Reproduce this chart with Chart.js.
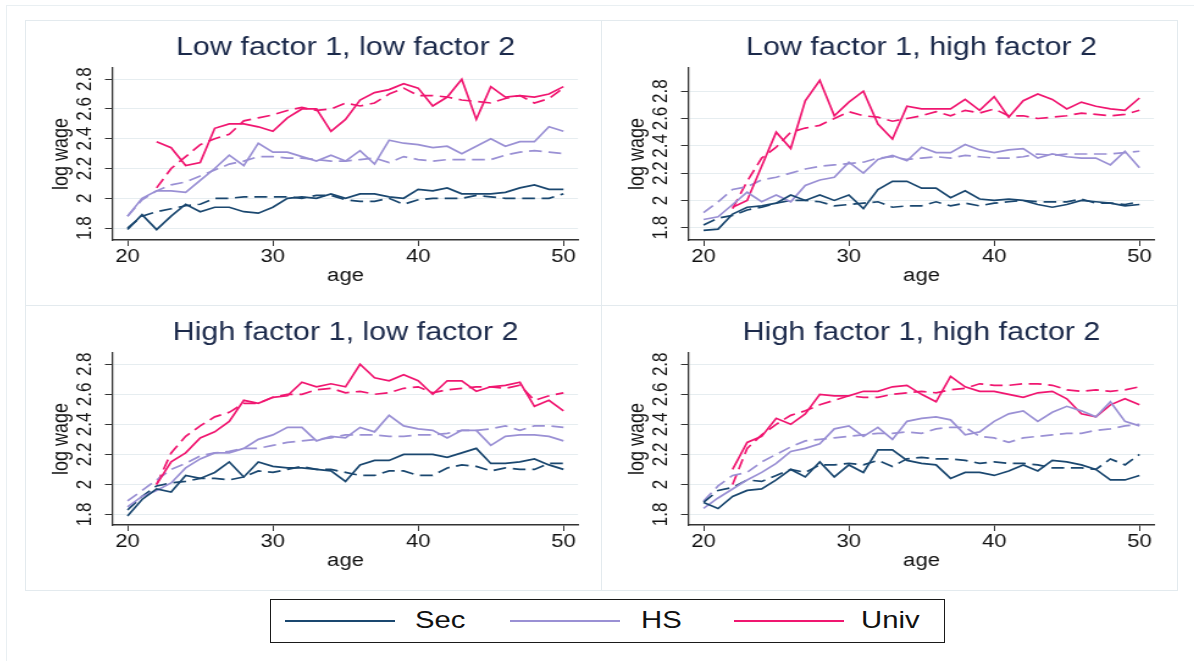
<!DOCTYPE html>
<html>
<head>
<meta charset="utf-8">
<script src="https://cdn.jsdelivr.net/npm/chart.js@4.4.1/dist/chart.umd.min.js"></script>
<style>
  body { margin: 0; width: 1194px; height: 661px; overflow: hidden; position: relative; background: #fff;
         font-family: "Liberation Sans", Arial, sans-serif; }
  .frame { position: absolute; left: 6px; top: 5px; width: 1200px; height: 700px; border: 1px solid #e9eff2; }
  .panel { position: absolute; border: 1px solid #e3eaee; box-sizing: border-box; }
  canvas { position: absolute; }
  .legend { position: absolute; left: 270px; top: 599px; width: 675px; height: 44px; border: 1.5px solid #1a1a1a;
            box-sizing: border-box; background: #fff; }
  .legend .ln { position: absolute; top: 20px; width: 110px; height: 0; border-top: 2px solid; }
  .legend .tx { position: absolute; top: 6px; font-size: 24px; line-height: 28px; color: #111;
                transform: scaleX(1.22); transform-origin: left center; }
</style>
</head>
<body>
<div class="frame"></div>
<div class="panel" style="left:25px;top:20px;width:577px;height:286px"></div>
<div class="panel" style="left:601px;top:20px;width:577px;height:286px"></div>
<div class="panel" style="left:25px;top:305px;width:577px;height:286px"></div>
<div class="panel" style="left:601px;top:305px;width:577px;height:286px"></div>
<!-- the reference image is stretched sideways, so each canvas is drawn narrow and shown wide -->
<canvas id="p1" width="472" height="285" style="left:25px;top:20px;width:576px;height:285px"></canvas>
<canvas id="p2" width="472" height="285" style="left:601px;top:20px;width:576px;height:285px"></canvas>
<canvas id="p3" width="472" height="285" style="left:25px;top:305px;width:576px;height:285px"></canvas>
<canvas id="p4" width="472" height="285" style="left:601px;top:305px;width:576px;height:285px"></canvas>
<div class="legend">
  <div class="ln" style="left:14px;border-color:#1a476f"></div><div class="tx" style="left:144px">Sec</div>
  <div class="ln" style="left:239px;border-color:#9a90d4"></div><div class="tx" style="left:370px">HS</div>
  <div class="ln" style="left:463px;border-color:#f01670"></div><div class="tx" style="left:590px">Univ</div>
</div>
<script>
// ages on the x axis, ticks
const ages = [20,21,22,23,24,25,26,27,28,29,30,31,32,33,34,35,36,37,38,39,40,41,42,43,44,45,46,47,48,49,50];
const xTicks = [20, 30, 40, 50];
const yTicks = [1.8, 2, 2.2, 2.4, 2.6, 2.8];

// Low factor 1, low factor 2  (Obs = solid, Fit = dashed)
const p1SecObs  = [1.79,1.89,1.79,1.88,1.96,1.91,1.94,1.94,1.91,1.90,1.94,2.00,2.01,2.00,2.03,2.00,2.03,2.03,2.01,2.00,2.06,2.05,2.07,2.03,2.03,2.03,2.04,2.07,2.09,2.06,2.06];
const p1SecFit  = [1.80,1.88,1.91,1.93,1.95,1.96,2.00,2.00,2.01,2.01,2.01,2.01,2.00,2.02,2.02,1.99,1.98,1.98,2.00,1.96,1.99,2.00,2.00,2.00,2.02,2.01,2.00,2.00,2.00,2.00,2.03];
const p1HsObs   = [1.88,2.00,2.05,2.05,2.04,2.12,2.20,2.29,2.22,2.37,2.31,2.31,2.28,2.25,2.29,2.25,2.32,2.23,2.39,2.37,2.36,2.34,2.35,2.30,2.35,2.40,2.35,2.38,2.38,2.48,2.45];
const p1HsFit   = [1.88,1.99,2.05,2.09,2.11,2.15,2.19,2.23,2.25,2.28,2.28,2.27,2.27,2.26,2.25,2.25,2.26,2.27,2.24,2.28,2.26,2.25,2.26,2.26,2.26,2.26,2.29,2.31,2.32,2.31,2.30];
const p1UnivObs = [null,null,2.38,2.34,2.22,2.24,2.47,2.50,2.50,2.48,2.45,2.54,2.60,2.60,2.45,2.53,2.66,2.71,2.73,2.77,2.74,2.62,2.68,2.80,2.53,2.75,2.68,2.69,2.68,2.70,2.75];
const p1UnivFit = [null,null,2.07,2.20,2.28,2.36,2.40,2.43,2.52,2.54,2.56,2.59,2.61,2.59,2.60,2.64,2.62,2.64,2.70,2.74,2.69,2.69,2.68,2.66,2.65,2.64,2.67,2.69,2.64,2.67,2.74];

// Low factor 1, high factor 2
const p2SecObs  = [1.78,1.79,1.90,1.95,1.96,1.98,2.04,2.00,2.04,2.00,2.04,1.94,2.08,2.14,2.14,2.09,2.09,2.02,2.07,2.01,2.00,2.01,2.00,1.97,1.95,1.97,2.00,1.99,1.98,1.96,1.97];
const p2SecFit  = [1.82,1.87,1.89,1.93,1.95,1.98,2.00,2.00,1.99,1.96,1.97,1.98,1.99,1.95,1.96,1.96,1.99,1.96,1.98,1.96,1.98,1.99,2.00,1.99,1.99,1.99,2.01,1.98,1.98,1.97,1.99];
const p2HsObs   = [1.86,1.88,1.97,2.06,1.99,2.04,1.99,2.11,2.15,2.17,2.28,2.20,2.30,2.33,2.29,2.39,2.35,2.35,2.41,2.37,2.35,2.37,2.38,2.31,2.34,2.32,2.31,2.31,2.26,2.36,2.24];
const p2HsFit   = [1.91,1.99,2.08,2.10,2.15,2.17,2.20,2.23,2.25,2.26,2.27,2.28,2.31,2.32,2.30,2.31,2.32,2.31,2.33,2.32,2.31,2.31,2.32,2.34,2.33,2.34,2.34,2.34,2.34,2.35,2.36];
const p2UnivObs = [null,null,1.95,2.00,2.25,2.50,2.38,2.73,2.88,2.62,2.72,2.80,2.56,2.45,2.69,2.67,2.67,2.67,2.74,2.66,2.76,2.61,2.73,2.78,2.74,2.67,2.72,2.69,2.67,2.66,2.75];
const p2UnivFit = [null,null,1.94,2.14,2.31,2.39,2.50,2.53,2.55,2.60,2.65,2.62,2.61,2.58,2.60,2.62,2.65,2.62,2.66,2.64,2.67,2.62,2.62,2.60,2.61,2.62,2.64,2.63,2.62,2.63,2.66];

// High factor 1, low factor 2
const p3SecObs  = [1.79,1.90,1.97,1.95,2.06,2.04,2.08,2.15,2.05,2.15,2.12,2.11,2.11,2.10,2.09,2.02,2.13,2.16,2.16,2.20,2.20,2.20,2.18,2.21,2.24,2.14,2.14,2.15,2.17,2.13,2.10];
const p3SecFit  = [1.83,1.92,1.99,2.01,2.02,2.04,2.04,2.03,2.05,2.09,2.08,2.10,2.12,2.10,2.10,2.08,2.06,2.06,2.09,2.09,2.06,2.06,2.11,2.13,2.12,2.09,2.11,2.10,2.10,2.14,2.14];
const p3HsObs   = [1.85,1.92,1.96,2.01,2.11,2.17,2.21,2.21,2.24,2.30,2.33,2.38,2.38,2.29,2.32,2.31,2.38,2.35,2.46,2.39,2.37,2.36,2.31,2.36,2.36,2.26,2.32,2.33,2.33,2.32,2.29];
const p3HsFit   = [1.89,1.96,2.03,2.10,2.14,2.19,2.21,2.22,2.24,2.24,2.26,2.28,2.29,2.30,2.31,2.33,2.33,2.33,2.32,2.32,2.33,2.33,2.34,2.36,2.36,2.37,2.39,2.36,2.39,2.39,2.38];
const p3UnivObs = [null,null,2.00,2.15,2.21,2.31,2.35,2.42,2.56,2.54,2.58,2.59,2.68,2.65,2.67,2.65,2.80,2.71,2.69,2.73,2.69,2.60,2.69,2.69,2.62,2.65,2.66,2.68,2.52,2.56,2.49];
const p3UnivFit = [null,null,2.00,2.21,2.32,2.39,2.45,2.48,2.54,2.54,2.58,2.60,2.60,2.63,2.64,2.61,2.62,2.60,2.61,2.64,2.65,2.61,2.63,2.64,2.65,2.65,2.64,2.66,2.56,2.59,2.61];

// High factor 1, high factor 2
const p4SecObs  = [1.88,1.84,1.92,1.96,1.97,2.03,2.10,2.05,2.15,2.05,2.13,2.08,2.23,2.23,2.16,2.14,2.13,2.04,2.08,2.08,2.06,2.09,2.13,2.09,2.16,2.15,2.13,2.10,2.03,2.03,2.06];
const p4SecFit  = [1.88,1.96,1.98,2.03,2.02,2.06,2.10,2.08,2.13,2.13,2.14,2.13,2.16,2.12,2.17,2.18,2.17,2.17,2.16,2.14,2.15,2.14,2.14,2.13,2.11,2.11,2.11,2.10,2.17,2.13,2.20];
const p4HsObs   = [1.84,1.91,1.97,2.03,2.08,2.14,2.22,2.24,2.27,2.37,2.39,2.32,2.38,2.30,2.42,2.44,2.45,2.43,2.33,2.35,2.42,2.47,2.49,2.42,2.48,2.52,2.49,2.45,2.55,2.42,2.39];
const p4HsFit   = [1.89,1.99,2.06,2.08,2.15,2.20,2.25,2.29,2.30,2.31,2.32,2.33,2.34,2.34,2.35,2.34,2.37,2.38,2.38,2.32,2.31,2.28,2.31,2.32,2.33,2.34,2.34,2.36,2.37,2.39,2.40];
const p4UnivObs = [null,null,2.10,2.28,2.32,2.44,2.40,2.47,2.60,2.59,2.59,2.62,2.62,2.65,2.66,2.60,2.55,2.72,2.65,2.62,2.62,2.60,2.58,2.61,2.62,2.57,2.47,2.45,2.53,2.57,2.53];
const p4UnivFit = [null,null,2.00,2.24,2.33,2.40,2.46,2.49,2.53,2.56,2.59,2.58,2.58,2.60,2.61,2.62,2.61,2.63,2.64,2.67,2.66,2.66,2.67,2.67,2.66,2.63,2.62,2.63,2.62,2.63,2.65];

const SEC = '#1a476f', HS = '#9a90d4', UNIV = '#f01670';
const AXIS = '#333', GRID = '#e6edf0', TXT = '#111';
const FONT = '"Liberation Sans", Arial, sans-serif';
const S = 576 / 472;   // sideways stretch of the canvas

function line(vals, color, dashed) {
  return {
    data: ages.map((a, i) => ({ x: a, y: vals[i] })),
    borderColor: color,
    borderWidth: 1.7,
    borderDash: dashed ? [10.5, 5.5] : [],
    pointRadius: 0,
    tension: 0,
    fill: false
  };
}

function makePanel(id, title, sets, yMin, yMax) {
  new Chart(document.getElementById(id), {
    type: 'line',
    data: { datasets: sets },
    options: {
      responsive: false,
      animation: false,
      devicePixelRatio: 1,
      // plot area: 88..553 px across (screen), 48..219.5 px down
      layout: { padding: { left: 12 / S, right: 23 / S, top: 0, bottom: 18 } },
      plugins: {
        legend: { display: false },
        tooltip: { enabled: false },
        title: {
          display: true, fullSize: false, text: title, color: '#1c2a4b',
          font: { family: FONT, size: 25, weight: 'normal' },
          padding: { top: 13, bottom: 5 }
        }
      },
      scales: {
        x: {
          type: 'linear', min: 19, max: 51,
          afterBuildTicks: s => { s.ticks = xTicks.map(v => ({ value: v })); },
          afterFit: s => { s.height = 47; },
          grid: { drawOnChartArea: false, tickColor: AXIS, tickLength: 6 },
          border: { color: AXIS, width: 1.5 },
          ticks: { color: TXT, font: { family: FONT, size: 18 }, padding: 0, maxRotation: 0, autoSkip: false,
                   callback: v => String(v) },
          title: { display: true, text: 'age', color: TXT, font: { family: FONT, size: 18 },
                   padding: { top: 0, bottom: 0 } }
        },
        y: {
          min: yMin, max: yMax,
          afterBuildTicks: s => { s.ticks = yTicks.map(v => ({ value: v })); },
          afterFit: s => { s.width = 76 / S; },
          grid: { color: GRID, tickColor: AXIS, tickLength: 8 / S },
          border: { color: AXIS, width: 1.3 },
          ticks: { color: TXT, font: { family: FONT, size: 17 }, padding: 4, minRotation: 90, maxRotation: 90,
                   crossAlign: 'center', autoSkip: false, callback: v => String(v) },
          title: { display: true, text: 'log wage', color: TXT, font: { family: FONT, size: 18 },
                   padding: { top: 9.5, bottom: 0 } }
        }
      }
    }
  });
}

makePanel('p1', 'Low factor 1, low factor 2', [
  line(p1SecObs, SEC), line(p1HsObs, HS), line(p1UnivObs, UNIV),
  line(p1SecFit, SEC, true), line(p1HsFit, HS, true), line(p1UnivFit, UNIV, true)
], 1.72, 2.875);
makePanel('p2', 'Low factor 1, high factor 2', [
  line(p2SecObs, SEC), line(p2HsObs, HS), line(p2UnivObs, UNIV),
  line(p2SecFit, SEC, true), line(p2HsFit, HS, true), line(p2UnivFit, UNIV, true)
], 1.71, 2.97);
makePanel('p3', 'High factor 1, low factor 2', [
  line(p3SecObs, SEC), line(p3HsObs, HS), line(p3UnivObs, UNIV),
  line(p3SecFit, SEC, true), line(p3HsFit, HS, true), line(p3UnivFit, UNIV, true)
], 1.73, 2.875);
makePanel('p4', 'High factor 1, high factor 2', [
  line(p4SecObs, SEC), line(p4HsObs, HS), line(p4UnivObs, UNIV),
  line(p4SecFit, SEC, true), line(p4HsFit, HS, true), line(p4UnivFit, UNIV, true)
], 1.73, 2.875);
</script>
</body>
</html>
